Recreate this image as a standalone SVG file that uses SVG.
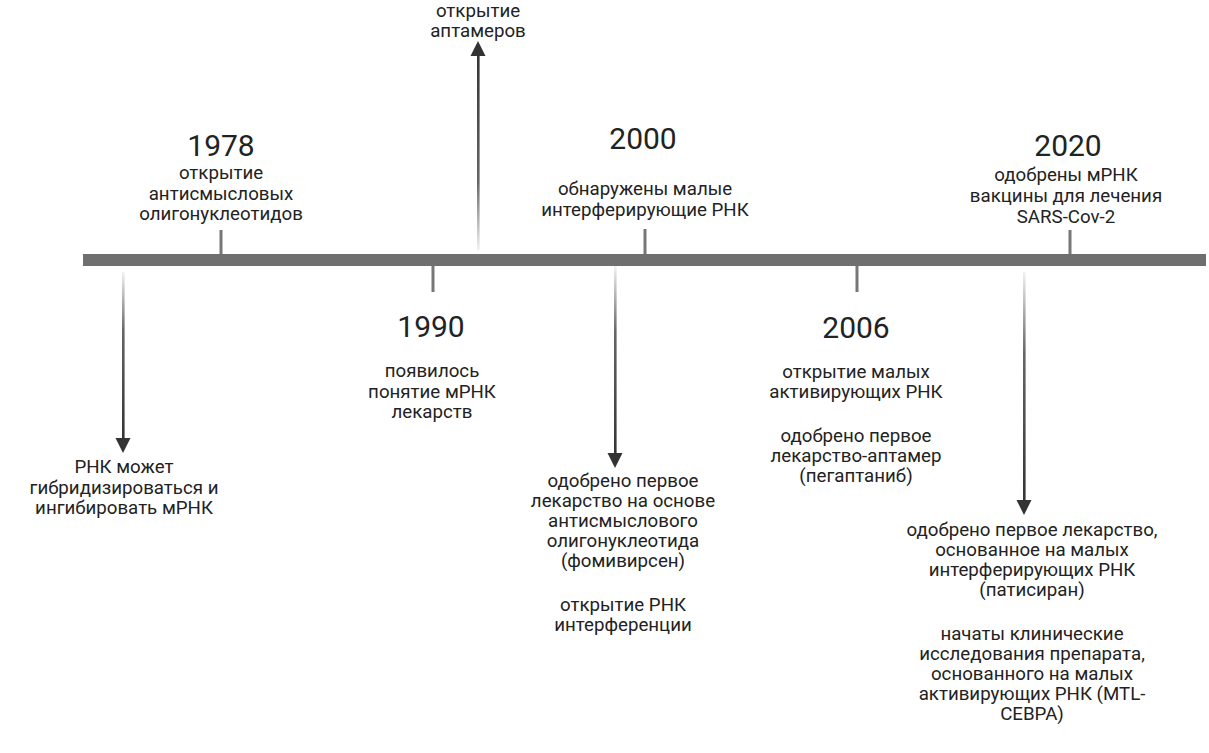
<svg xmlns="http://www.w3.org/2000/svg" width="1209" height="753" viewBox="0 0 1209 753">
<defs>
<linearGradient id="gDown" x1="0" y1="0" x2="0" y2="1">
<stop offset="0" stop-color="#f2f2f2"/>
<stop offset="0.35" stop-color="#666"/>
<stop offset="1" stop-color="#333"/>
</linearGradient>
<linearGradient id="gUp" x1="0" y1="1" x2="0" y2="0">
<stop offset="0" stop-color="#f2f2f2"/>
<stop offset="0.35" stop-color="#666"/>
<stop offset="1" stop-color="#333"/>
</linearGradient>
<style>
text{font-family:Roboto,"Liberation Sans",sans-serif;fill:#222;text-anchor:middle}
.yr{font-size:30px}
.tx{font-size:18.7px}
.tick{stroke:#777;stroke-width:3}
.head{fill:#333}
</style>
</defs>
<rect width="1209" height="753" fill="#fff"/>
<g id="timeline">
<rect x="83" y="254" width="1123" height="12" fill="#6f6f6f"/>
</g>
<g id="connectors">
<line class="tick" x1="221" y1="230" x2="221" y2="254"/>
<line class="tick" x1="433" y1="266" x2="433" y2="292"/>
<line class="tick" x1="645" y1="229" x2="645" y2="254"/>
<line class="tick" x1="857" y1="266" x2="857" y2="292"/>
<line class="tick" x1="1070" y1="230" x2="1070" y2="254"/>
<rect x="122" y="272" width="2.6" height="168" fill="url(#gDown)"/>
<path class="head" d="M115.5,438 L130.5,438 L123,453 Z"/>
<rect x="614" y="266" width="2.6" height="189" fill="url(#gDown)"/>
<path class="head" d="M607.5,453 L622.5,453 L615,468 Z"/>
<rect x="1023" y="272" width="2.6" height="230" fill="url(#gDown)"/>
<path class="head" d="M1016.5,500 L1031.5,500 L1024,515 Z"/>
<rect x="477" y="54" width="2.6" height="196" fill="url(#gUp)"/>
<path class="head" d="M470.5,56 L485.5,56 L478,41 Z"/>
</g>
<g id="n1978">
<text class="yr" x="221" y="156">1978</text>
<text class="tx" x="221" y="179">открытие</text>
<text class="tx" x="221" y="200">антисмысловых</text>
<text class="tx" x="221" y="220">олигонуклеотидов</text>
</g>
<g id="nAptamers">
<text class="tx" x="478" y="17">открытие</text>
<text class="tx" x="478" y="37">аптамеров</text>
</g>
<g id="n2000">
<text class="yr" x="643" y="149">2000</text>
<text class="tx" x="645" y="195">обнаружены малые</text>
<text class="tx" x="645" y="216">интерферирующие РНК</text>
</g>
<g id="n2020">
<text class="yr" x="1068" y="156">2020</text>
<text class="tx" x="1066" y="181">одобрены мРНК</text>
<text class="tx" x="1066" y="202">вакцины для лечения</text>
<text class="tx" x="1066" y="223">SARS-Cov-2</text>
</g>
<g id="n1990">
<text class="yr" x="431" y="337">1990</text>
<text class="tx" x="432" y="377">появилось</text>
<text class="tx" x="432" y="398">понятие мРНК</text>
<text class="tx" x="432" y="418">лекарств</text>
</g>
<g id="n2006">
<text class="yr" x="856" y="338">2006</text>
<text class="tx" x="856" y="378">открытие малых</text>
<text class="tx" x="856" y="398">активирующих РНК</text>
<text class="tx" x="856" y="442">одобрено первое</text>
<text class="tx" x="856" y="462">лекарство-аптамер</text>
<text class="tx" x="856" y="482">(пегаптаниб)</text>
</g>
<g id="nRNA">
<text class="tx" x="124" y="473">РНК может</text>
<text class="tx" x="124" y="494">гибридизироваться и</text>
<text class="tx" x="124" y="514">ингибировать мРНК</text>
</g>
<g id="nFomivirsen">
<text class="tx" x="623" y="487">одобрено первое</text>
<text class="tx" x="623" y="507">лекарство на основе</text>
<text class="tx" x="623" y="527">антисмыслового</text>
<text class="tx" x="623" y="547">олигонуклеотида</text>
<text class="tx" x="623" y="567">(фомивирсен)</text>
<text class="tx" x="623" y="611">открытие РНК</text>
<text class="tx" x="623" y="631">интерференции</text>
</g>
<g id="nPatisiran">
<text class="tx" x="1032" y="536">одобрено первое лекарство,</text>
<text class="tx" x="1032" y="556">основанное на малых</text>
<text class="tx" x="1032" y="576">интерферирующих РНК</text>
<text class="tx" x="1032" y="596">(патисиран)</text>
<text class="tx" x="1032" y="640">начаты клинические</text>
<text class="tx" x="1032" y="660">исследования препарата,</text>
<text class="tx" x="1032" y="680">основанного на малых</text>
<text class="tx" x="1032" y="700">активирующих РНК (MTL-</text>
<text class="tx" x="1032" y="720">CEBPA)</text>
</g>
</svg>
